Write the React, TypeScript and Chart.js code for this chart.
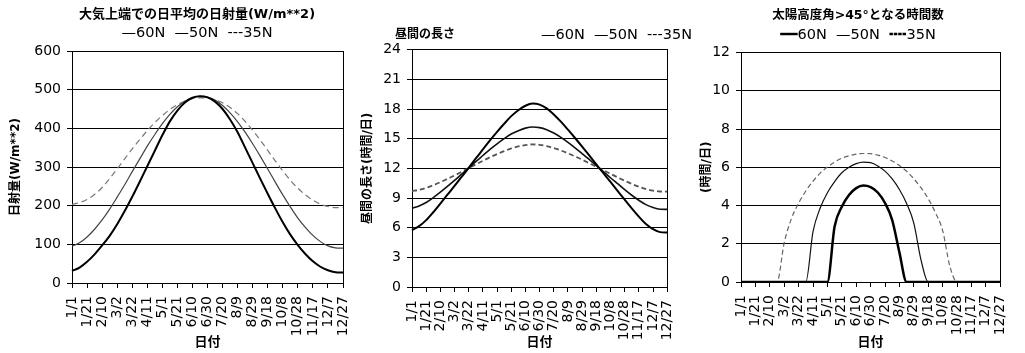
import React, { useEffect, useRef } from "react";
import { Chart, registerables } from "chart.js";

Chart.register(...registerables);

const FONT = "'DejaVu Sans', 'Noto Sans CJK JP', sans-serif";

// Category labels (every 10 days); every second one is shown on the axis
const dateLabels = [
  "1/1", "1/11", "1/21", "1/31", "2/10", "2/20", "3/2", "3/12", "3/22", "4/1",
  "4/11", "4/21", "5/1", "5/11", "5/21", "5/31", "6/10", "6/20", "6/30", "7/10",
  "7/20", "7/30", "8/9", "8/19", "8/29", "9/8", "9/18", "9/28", "10/8", "10/18",
  "10/28", "11/7", "11/17", "11/27", "12/7", "12/17", "12/27",
];

// Panel 1: daily mean insolation at top of atmosphere (W/m**2)
const insolation60N = [31, 40, 55, 74, 97, 122, 152, 186, 223, 262, 302, 342, 382, 418, 446, 467, 479, 483, 480, 469, 450, 423, 390, 350, 310, 270, 231, 193, 157, 125, 98, 75, 56, 42, 33, 28, 27];
const insolation50N = [95, 104, 119, 139, 163, 191, 222, 254, 288, 321, 354, 384, 412, 436, 456, 470, 479, 483, 481, 473, 459, 440, 417, 390, 360, 328, 295, 261, 228, 197, 168, 144, 123, 107, 96, 91, 90];
const insolation35N = [203, 208, 216, 229, 247, 270, 295, 321, 347, 371, 394, 415, 433, 449, 461, 471, 477, 479, 478, 474, 466, 454, 438, 418, 395, 370, 343, 316, 290, 266, 245, 228, 214, 204, 198, 195, 195];

// Panel 2: day length (hours/day)
const dayLength60N = [5.75, 6.15, 6.76, 7.56, 8.43, 9.33, 10.22, 11.14, 12.05, 13.0, 13.91, 14.83, 15.69, 16.51, 17.28, 17.88, 18.33, 18.55, 18.45, 18.06, 17.45, 16.72, 15.91, 15.07, 14.2, 13.31, 12.41, 11.51, 10.63, 9.73, 8.83, 7.95, 7.12, 6.37, 5.85, 5.55, 5.52];
const dayLength50N = [7.97, 8.2, 8.55, 9.04, 9.59, 10.18, 10.78, 11.41, 12.03, 12.68, 13.3, 13.92, 14.48, 15.0, 15.47, 15.81, 16.07, 16.18, 16.12, 15.91, 15.57, 15.13, 14.63, 14.08, 13.5, 12.9, 12.28, 11.67, 11.05, 10.45, 9.85, 9.28, 8.77, 8.33, 8.04, 7.87, 7.85];
const dayLength35N = [9.7, 9.83, 10.03, 10.29, 10.6, 10.94, 11.28, 11.65, 12.02, 12.4, 12.76, 13.12, 13.44, 13.74, 14.01, 14.21, 14.35, 14.42, 14.38, 14.25, 14.05, 13.81, 13.52, 13.21, 12.88, 12.52, 12.17, 11.8, 11.45, 11.09, 10.75, 10.43, 10.14, 9.9, 9.74, 9.66, 9.64];

// Panel 3: hours per day with solar elevation > 45 deg
const highSun60N = [0, 0, 0, 0, 0, 0, 0, 0, 0, 0, 0, 0, 0, 2.9, 3.94, 4.55, 4.91, 5.04, 4.96, 4.68, 4.13, 3.24, 1.55, 0, 0, 0, 0, 0, 0, 0, 0, 0, 0, 0, 0, 0, 0];
const highSun50N = [0, 0, 0, 0, 0, 0, 0, 0, 0, 0, 2.63, 3.87, 4.67, 5.25, 5.71, 6.0, 6.19, 6.27, 6.24, 6.07, 5.8, 5.39, 4.84, 4.11, 3.08, 1.16, 0, 0, 0, 0, 0, 0, 0, 0, 0, 0, 0];
const highSun35N = [0, 0, 0, 0, 0, 0, 2.05, 3.31, 4.12, 4.76, 5.27, 5.69, 6.01, 6.27, 6.47, 6.6, 6.69, 6.72, 6.71, 6.63, 6.51, 6.33, 6.09, 5.79, 5.4, 4.93, 4.36, 3.63, 2.7, 0.84, 0, 0, 0, 0, 0, 0, 0];

type Series = { label: string; data: number[]; color: string; width: number; dash: number[] };

type PanelProps = {
  left: number;
  width: number;
  series: Series[];
  yMax: number;
  yStep: number;
  yTitle: string;
  title?: string;
  titleSize?: number;
  titlePad?: { top: number; bottom: number };
  legendText: string;
  legendPad: { top: number; bottom: number };
  legendAlign: "center" | "end";
  yAxisWidth: number;
  rightWidth: number;
  xAxisHeight: number;
  cornerLabel?: string;
};

const HEIGHT = 353;

function Panel(p: PanelProps) {
  const ref = useRef<HTMLCanvasElement | null>(null);

  useEffect(() => {
    if (!ref.current) return;
    const plugins: any[] = [];
    if (p.cornerLabel) {
      const text = p.cornerLabel;
      plugins.push({
        id: "cornerLabel",
        afterDraw(chart: any) {
          const { ctx, chartArea } = chart;
          ctx.save();
          ctx.font = `bold 12px ${FONT}`;
          ctx.fillStyle = "#000";
          ctx.textBaseline = "middle";
          ctx.textAlign = "left";
          ctx.fillText(text, chartArea.left - 17, chartArea.top - 15);
          ctx.restore();
        },
      });
    }

    const hasTitle = !!p.title;
    const chart = new Chart(ref.current, {
      type: "line",
      data: {
        labels: dateLabels,
        datasets: p.series.map((s) => ({
          label: s.label,
          data: s.data,
          borderColor: s.color,
          backgroundColor: s.color,
          borderWidth: s.width,
          borderDash: s.dash,
          pointRadius: 0,
          fill: false,
          cubicInterpolationMode: "monotone" as const,
        })),
      },
      options: {
        responsive: false,
        animation: false,
        devicePixelRatio: 1,
        layout: { padding: 0 },
        plugins: {
          legend: { display: false },
          tooltip: { enabled: false },
          title: hasTitle
            ? {
                display: true,
                text: p.title,
                color: "#000",
                font: { family: FONT, size: p.titleSize || 13, weight: "bold" },
                padding: p.titlePad,
              }
            : {
                display: true,
                text: p.legendText,
                color: "#000",
                align: p.legendAlign,
                font: { family: FONT, size: 14.5, weight: "normal" },
                padding: p.legendPad,
              },
          subtitle: hasTitle
            ? {
                display: true,
                text: p.legendText,
                color: "#000",
                align: p.legendAlign,
                font: { family: FONT, size: 14.5, weight: "normal" },
                padding: p.legendPad,
              }
            : { display: false },
        },
        scales: {
          x: {
            type: "category",
            grid: {
              drawOnChartArea: false,
              drawTicks: true,
              tickLength: 5,
              lineWidth: 1,
              color: (c: any) => (c.index % 2 === 0 ? "#000" : "rgba(0,0,0,0)"),
            },
            border: { display: true, color: "#000", width: 1 },
            ticks: {
              autoSkip: false,
              maxRotation: 90,
              minRotation: 90,
              padding: 8,
              color: "#000",
              font: { family: FONT, size: 14 },
              callback: (_v: any, i: number) => (i % 2 === 0 ? dateLabels[i] : ""),
            },
            title: {
              display: true,
              text: "日付",
              color: "#000",
              font: { family: FONT, size: 13, weight: "bold" },
              padding: { top: 0, bottom: 2.2 },
            },
            afterFit: (s: any) => {
              s.height = p.xAxisHeight;
            },
          },
          y: {
            type: "linear",
            min: 0,
            max: p.yMax,
            ticks: {
              stepSize: p.yStep,
              color: "#000",
              padding: 6,
              font: { family: FONT, size: 14 },
            },
            grid: { color: "#000", lineWidth: 1, drawTicks: true, tickLength: 5 },
            border: { display: true, color: "#000", width: 1 },
            title: {
              display: true,
              text: p.yTitle,
              color: "#000",
              font: { family: FONT, size: 12, weight: "bold" },
              padding: { top: 9, bottom: 0 },
            },
            afterFit: (s: any) => {
              s.width = p.yAxisWidth;
            },
          },
          y2: {
            type: "linear",
            position: "right",
            display: true,
            min: 0,
            max: 1,
            grid: { drawOnChartArea: false, drawTicks: false },
            ticks: { display: false },
            border: { display: true, color: "#000", width: 1 },
            afterFit: (s: any) => {
              s.width = p.rightWidth;
            },
          },
        },
      } as any,
      plugins,
    });
    return () => chart.destroy();
  }, []);

  return (
    <canvas
      ref={ref}
      width={p.width}
      height={HEIGHT}
      style={{ position: "absolute", left: p.left, top: 0, width: p.width, height: HEIGHT }}
    />
  );
}

export default function App() {
  return (
    <div
      style={{
        position: "fixed",
        left: 0,
        top: 0,
        width: 1025,
        height: HEIGHT,
        background: "#fff",
        overflow: "hidden",
      }}
    >
      <Panel
        left={0}
        width={394}
        yAxisWidth={72}
        rightWidth={51}
        xAxisHeight={70}
        yMax={600}
        yStep={100}
        yTitle="日射量(W/m**2)"
        title="大気上端での日平均の日射量(W/m**2)"
        titleSize={13}
        titlePad={{ top: 7.2, bottom: 0 }}
        legendText="—60N  —50N  ---35N"
        legendPad={{ top: 2, bottom: 8.8 }}
        legendAlign="center"
        series={[
          { label: "60N", data: insolation60N, color: "#000", width: 2, dash: [] },
          { label: "50N", data: insolation50N, color: "#444", width: 1.2, dash: [] },
          { label: "35N", data: insolation35N, color: "#777", width: 1.2, dash: [6, 4] },
        ]}
      />
      <Panel
        left={352}
        width={340}
        yAxisWidth={60}
        rightWidth={12}
        xAxisHeight={66}
        yMax={24}
        yStep={3}
        yTitle="昼間の長さ(時間/日)"
        legendText="—60N  —50N  ---35N"
        legendPad={{ top: 26.3, bottom: 6 }}
        legendAlign="end"
        cornerLabel="昼間の長さ"
        series={[
          { label: "60N", data: dayLength60N, color: "#000", width: 2, dash: [] },
          { label: "50N", data: dayLength50N, color: "#111", width: 1.6, dash: [] },
          { label: "35N", data: dayLength35N, color: "#555", width: 1.8, dash: [5, 3] },
        ]}
      />
      <Panel
        left={691}
        width={334}
        yAxisWidth={50}
        rightWidth={11}
        xAxisHeight={71}
        yMax={12}
        yStep={2}
        yTitle="(時間/日)"
        title="太陽高度角>45°となる時間数"
        titleSize={12.5}
        titlePad={{ top: 8.5, bottom: 0 }}
        legendText="━━60N  —50N  ╍╍35N"
        legendPad={{ top: 2.8, bottom: 8.8 }}
        legendAlign="center"
        series={[
          { label: "60N", data: highSun60N, color: "#000", width: 2.5, dash: [] },
          { label: "50N", data: highSun50N, color: "#111", width: 1.2, dash: [] },
          { label: "35N", data: highSun35N, color: "#666", width: 1.2, dash: [5, 3] },
        ]}
      />
    </div>
  );
}
